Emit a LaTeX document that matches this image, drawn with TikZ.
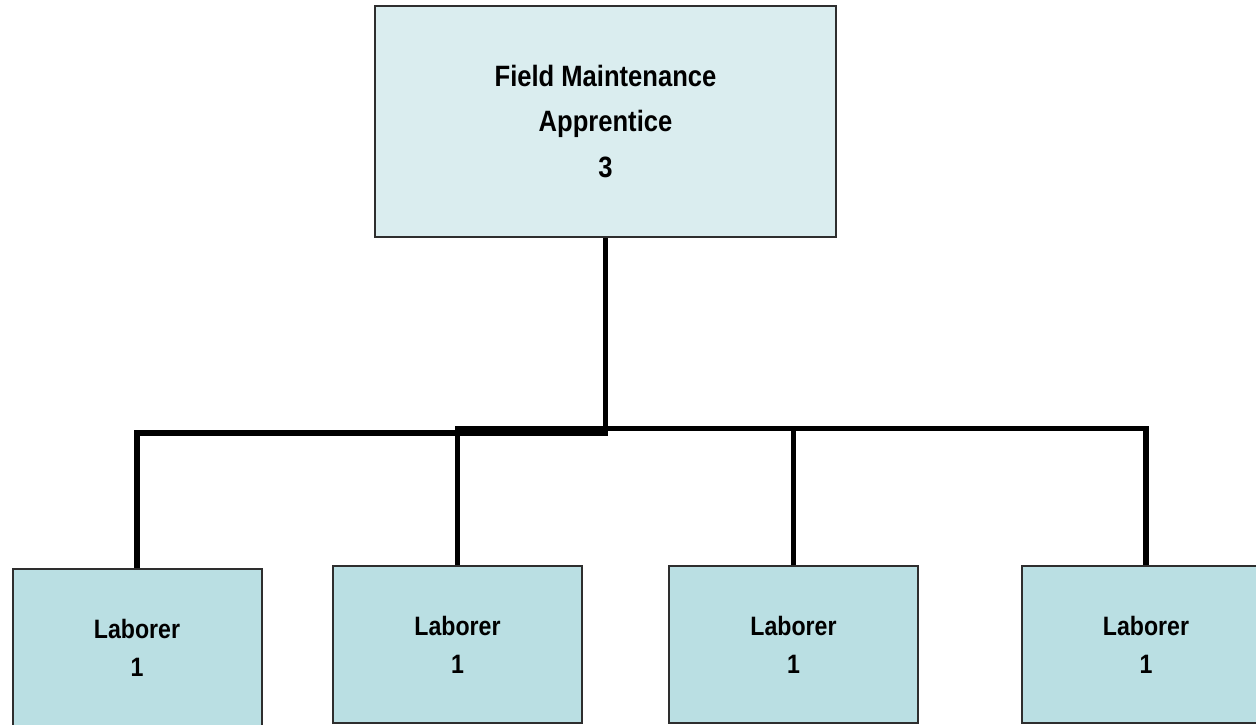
\documentclass[tikz,border=0pt]{standalone}
\usepackage{fontspec}
\setmainfont[FakeStretch=0.87]{Liberation Sans}
\usepackage{tikz}
\usetikzlibrary{positioning}

\definecolor{mgrfill}{HTML}{DAEDEF}
\definecolor{labfill}{HTML}{BADFE3}
\definecolor{edgegray}{HTML}{2E2E2E}

\begin{document}
\begin{tikzpicture}[
        x=0.5pt, y=-0.5pt,
        every node/.style={
            rectangle, draw=edgegray, line width=1pt, align=center, inner sep=0pt
        },
        mgrbox/.style={
            fill=mgrfill, minimum width=230.5pt, minimum height=115.5pt,
            font=\bfseries\fontsize{14.7}{22.75}\selectfont
        },
        labbox/.style={
            fill=labfill, minimum width=124.5pt, minimum height=78.5pt,
            font=\bfseries\fontsize{13.3}{19}\selectfont
        },
        link/.style={line width=2.75pt, color=black}
    ]
        \useasboundingbox (0,0) rectangle (1256,724);

        % Boxes
        \node[mgrbox] (mgr) at (605.5,121.5) {Field Maintenance\\Apprentice\\3};
        \node[labbox] (lab1) at (137,647.5) {Laborer\\1};
        \node[labbox] (lab2) at (457.5,644.5) {Laborer\\1};
        \node[labbox] (lab3) at (793.5,644.5) {Laborer\\1};
        \node[labbox] (lab4) at (1146,644.5) {Laborer\\1};

        % Connectors
        \draw[link] (mgr.south) -- ++(0,195) -| (lab1.north);
        \draw[link] (lab2.north) -- ++(0,-136.5) -| (lab4.north);
        \draw[link] (lab3.north) -- ++(0,-136.5);

    \end{tikzpicture}
\end{document}
